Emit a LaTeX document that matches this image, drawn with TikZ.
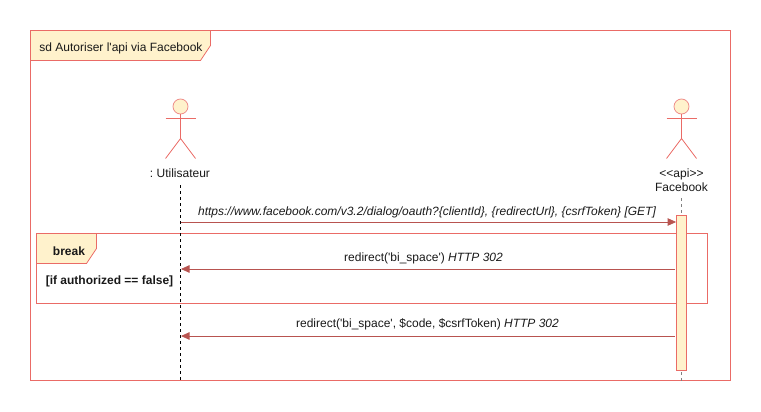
\documentclass[tikz,border=0pt]{standalone}
\usepackage{fontspec}
\setmainfont{Liberation Sans}
\usetikzlibrary{arrows.meta}

\definecolor{umlline}{HTML}{EA6B66}
\definecolor{umlfill}{HTML}{FFF2CC}
\definecolor{umlarrow}{HTML}{B85450}
\definecolor{umlgrey}{HTML}{808080}

\tikzset{
  lbl/.style={inner sep=0pt, align=center, font=\fontsize{12}{14}\selectfont\frenchspacing, text=black!90},
  framebox/.style={draw=umlline, line width=0.8pt},
  tabshape/.style={draw=umlline, fill=umlfill, line width=0.8pt},
  limb/.style={draw=umlline, line width=0.8pt},
  msg/.style={draw=umlarrow, line width=0.8pt, -{Triangle[length=8.5pt, width=7.5pt, fill=umlarrow]}},
  lifeline/.style={draw=black, line width=0.8pt, dash pattern=on 3pt off 3pt},
  lifegrey/.style={draw=umlgrey, line width=1pt, dash pattern=on 3pt off 3pt},
  actbar/.style={draw=umlline, fill=umlfill, line width=0.8pt, minimum width=10pt, minimum height=155pt, inner sep=0pt},
  head/.style={circle, draw=umlline!75, fill=umlfill, line width=0.8pt, minimum size=15pt, inner sep=0pt}
}

% stick figure, #1 = name, #2 = x
\newcommand{\stickman}[2]{
  \node[head] (#1head) at (#2, 106.5) {};
  \coordinate (#1hip) at (#2, 138.5);
  \coordinate (#1arml) at (#2-15, 118.5);
  \coordinate (#1armr) at (#2+15, 118.5);
  \coordinate (#1legl) at (#2-15, 158.5);
  \coordinate (#1legr) at (#2+15, 158.5);
  \draw[limb] (#1head.south) -- (#1hip);
  \draw[limb] (#1arml) -- (#1armr);
  \draw[limb] (#1legl) -- (#1hip) -- (#1legr);
}

\begin{document}
\begin{tikzpicture}[x=1pt, y=-1pt]
  \useasboundingbox (0, 0) rectangle (761, 412);

  % Outer frame
  \draw[framebox] (30.5, 30.5) rectangle (730.5, 380.5);
  \draw[tabshape] (30.5, 30.5) -- (210.5, 30.5) -- (210.5, 45.5) -- (200.5, 60.5) -- (30.5, 60.5) -- cycle;
  \node[lbl] (sdtitle) at (121, 48.5) {sd Autoriser l\textquotesingle api via Facebook};

  % Break frame
  \draw[framebox] (36.5, 233.5) rectangle (707.5, 303.5);
  \draw[tabshape] (36.5, 233.5) -- (96.5, 233.5) -- (96.5, 248.5) -- (86.5, 263.5) -- (36.5, 263.5) -- cycle;
  \node[lbl] (breaklbl) at (69, 251) {\bfseries break};
  \node[lbl] (guard) at (109.5, 281) {\bfseries [if authorized == false]};

  % Actors
  \stickman{user}{180.5}
  \stickman{fb}{681.5}
  \node[lbl] (userlbl) at (180, 173.5) {: Utilisateur};
  \node[lbl] (fblbl) at (681.5, 180) {<{}<api>{}>\\Facebook};

  % Lifelines
  \coordinate (usertop) at (180.5, 185);
  \coordinate (userend) at (180.5, 380.5);
  \coordinate (fbtop) at (681.5, 198);
  \coordinate (fbend) at (681.5, 380.5);
  \draw[lifeline] (usertop) -- (userend);
  \draw[lifegrey] (fbtop) -- (fbend);
  \node[actbar] (bar) at (681.5, 293) {};

  % Messages
  \coordinate (m1a) at (180.5, 222);
  \coordinate (m1b) at (bar.west |- m1a);
  \coordinate (m2a) at (675, 269);
  \coordinate (m2b) at (181, 269);
  \coordinate (m3a) at (675, 336);
  \coordinate (m3b) at (181, 336);
  \draw[msg] (m1a) -- (m1b);
  \draw[msg] (m2a) -- (m2b);
  \draw[msg] (m3a) -- (m3b);
  \node[lbl] (m1lbl) at (427, 212.5) {\itshape https://www.facebook.com/v3.2/dialog/oauth?\{clientId\}, \{redirectUrl\}, \{csrfToken\} [GET]};
  \node[lbl] (m2lbl) at (423.5, 258) {redirect(\textquotesingle bi\_space\textquotesingle) \textit{HTTP 302}};
  \node[lbl] (m3lbl) at (427.5, 324.5) {redirect(\textquotesingle bi\_space\textquotesingle, \$code, \$csrfToken) \textit{HTTP 302}};
\end{tikzpicture}
\end{document}
